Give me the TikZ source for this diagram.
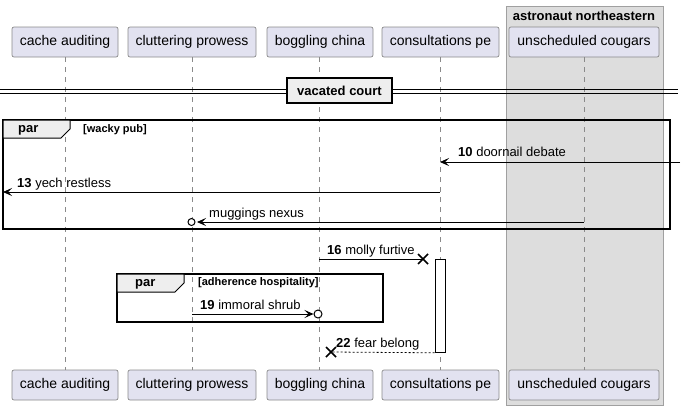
\documentclass[tikz,border=0pt]{standalone}
\usepackage{fontspec}
\setmainfont{Liberation Sans}
\usetikzlibrary{arrows.meta,calc}
\definecolor{partfill}{HTML}{E2E2F0}
\definecolor{partline}{HTML}{8A8A8A}
\definecolor{grpfill}{HTML}{DDDDDD}
\definecolor{grpline}{HTML}{A0A0A0}
\definecolor{tabfill}{HTML}{EEEEEE}
\definecolor{lifecol}{HTML}{8A8A8A}
\begin{document}
\begin{tikzpicture}[x=1pt,y=-1pt,
  part/.style={draw=partline, fill=partfill, line width=0.7pt, rounded corners=2pt, minimum height=30pt, inner sep=0pt, font=\fontsize{14}{16}\selectfont},
  lifeline/.style={draw=lifecol, line width=0.6pt, dash pattern=on 5pt off 5pt},
  msg/.style={line width=0.8pt, -{Stealth[length=9pt,width=8pt,inset=4pt]}},
  msgplain/.style={line width=0.8pt},
  reply/.style={line width=0.8pt, dash pattern=on 2pt off 2pt},
  lbl/.style={anchor=base west, inner sep=0pt, font=\fontsize{13}{15}\selectfont},
  grplbl/.style={inner sep=0pt, font=\fontsize{11}{13}\selectfont\bfseries},
  frame/.style={draw=black, line width=1.5pt},
  tab/.style={draw=black, line width=1pt, fill=tabfill},
  xmark/.style={line width=1.6pt},
  lolly/.style={draw=black, line width=1pt, fill=white}
]
\useasboundingbox (0,0) rectangle (685,410);

% box group
\node[draw=grpline, fill=grpfill, line width=0.7pt, minimum width=157pt, minimum height=399pt, inner sep=0pt, anchor=north west] (grp) at (506,6) {};
\node[inner sep=0pt, font=\fontsize{13}{15}\selectfont\bfseries] (grpt) at (584,15.5) {astronaut northeastern};

% participants
\node[part, minimum width=106pt] (pA) at (65,42) {cache auditing};
\node[part, minimum width=128pt] (pB) at (192,42) {cluttering prowess};
\node[part, minimum width=106pt] (pC) at (320,42) {boggling china};
\node[part, minimum width=117pt] (pD) at (440.5,42) {consultations pe};
\node[part, minimum width=150pt] (pE) at (584,42) {unscheduled cougars};

\node[part, minimum width=106pt] (qA) at (65,385) {cache auditing};
\node[part, minimum width=128pt] (qB) at (192,385) {cluttering prowess};
\node[part, minimum width=106pt] (qC) at (320,385) {boggling china};
\node[part, minimum width=117pt] (qD) at (440.5,385) {consultations pe};
\node[part, minimum width=150pt] (qE) at (584,385) {unscheduled cougars};

% lifelines
\draw[lifeline] (65,57) -- (65,370);
\draw[lifeline] (192,57) -- (192,370);
\draw[lifeline] (319,57) -- (319,370);
\draw[lifeline] (440,57) -- (440,370);
\draw[lifeline] (584,57) -- (584,370);

% divider
\draw[line width=1pt] (0,89.5) -- (678,89.5);
\draw[line width=1pt] (0,93) -- (678,93);
\node[draw=black, line width=1.5pt, fill=tabfill, minimum width=105pt, minimum height=25pt, inner sep=0pt, font=\fontsize{13}{15}\selectfont\bfseries] (div) at (339.5,90.5) {vacated court};

% par frame 1
\draw[frame] (3,120) rectangle (670,229);
\draw[tab] (3,120) -- (70,120) -- (70,129) -- (61,138) -- (3,138) -- cycle;
\node[inner sep=0pt, anchor=west, font=\fontsize{13}{15}\selectfont\bfseries] (par1) at (18,130.5) {par};
\node[grplbl, anchor=west] (g1) at (83,129.5) {[wacky pub]};

% message 10
\coordinate (m10s) at (680,162);
\coordinate (m10e) at (440,162);
\draw[msg] (m10s) -- (m10e);
\node[lbl] (l10) at (458,156) {\textbf{10} doornail debate};

% message 13
\coordinate (m13s) at (440,192);
\coordinate (m13e) at (3,192);
\draw[msg] (m13s) -- (m13e);
\node[lbl] (l13) at (17,187.5) {\textbf{13} yech restless};

% muggings nexus
\coordinate (mgs) at (584,222);
\coordinate (mge) at (197,222);
\draw[msg] (mgs) -- (mge);
\node[lolly, circle, minimum size=7pt, inner sep=0pt] (mgo) at (191.5,222) {};
\node[lbl] (lmg) at (209,217.5) {muggings nexus};

% activation
\node[draw=black, fill=white, line width=0.8pt, minimum width=10pt, minimum height=93pt, inner sep=0pt, anchor=north] (act) at (440,259) {};

% message 16
\coordinate (m16s) at (319,259);
\coordinate (m16x) at (423,259);
\draw[msgplain] (m16s) -- (m16x);
\draw[xmark] ($(m16x)+(-5,-5)$) -- ($(m16x)+(5,5)$);
\draw[xmark] ($(m16x)+(-5,5)$) -- ($(m16x)+(5,-5)$);
\node[lbl] (l16) at (327,254) {\textbf{16} molly furtive};

% par frame 2
\draw[frame] (117,274) rectangle (383,322);
\draw[tab] (117,274) -- (184,274) -- (184,283) -- (175,292) -- (117,292) -- cycle;
\node[inner sep=0pt, anchor=west, font=\fontsize{13}{15}\selectfont\bfseries] (par2) at (135,284.5) {par};
\node[grplbl, anchor=west] (g2) at (198,283) {[adherence hospitality]};

% message 19
\coordinate (m19s) at (192,314);
\coordinate (m19e) at (313.5,314);
\draw[msg] (m19s) -- (m19e);
\node[lolly, circle, minimum size=8pt, inner sep=0pt] (m19o) at (318,314) {};
\node[lbl] (l19) at (200,309.5) {\textbf{19} immoral shrub};

% message 22
\coordinate (m22x) at (331,352);
\draw[reply] (act.south west) -- (m22x);
\draw[xmark] ($(m22x)+(-5,-5)$) -- ($(m22x)+(5,5)$);
\draw[xmark] ($(m22x)+(-5,5)$) -- ($(m22x)+(5,-5)$);
\node[lbl] (l22) at (336,347) {\textbf{22} fear belong};
\end{tikzpicture}
\end{document}
